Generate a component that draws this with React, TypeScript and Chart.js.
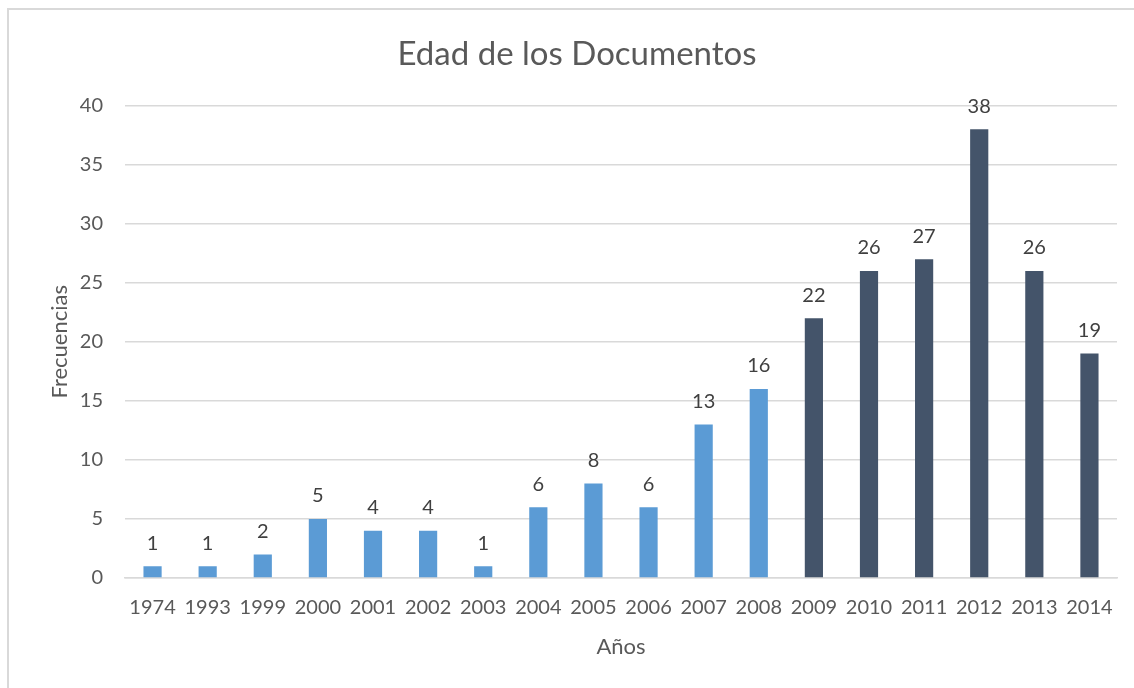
import React, { useEffect, useRef } from "react";
import { Chart, registerables } from "chart.js";

Chart.register(...registerables);

const years = ["1974","1993","1999","2000","2001","2002","2003","2004","2005","2006","2007","2008","2009","2010","2011","2012","2013","2014"];
const counts = [1,1,2,5,4,4,1,6,8,6,13,16,22,26,27,38,26,19];
const lightYears = 12; // first 12 categories use the light colour
const yTicks = [0,5,10,15,20,25,30,35,40];

const LIGHT = "#5B9BD5";
const DARK = "#44546A";
const TEXT = "#595959";
const FONT = "Lato, 'Open Sans', sans-serif";

export default function App() {
  const ref = useRef<HTMLCanvasElement | null>(null);
  useEffect(() => {
    document.body.style.margin = "0";
    const canvas = ref.current!;
    const framePlugin = {
      id: "frame",
      beforeDraw(chart: any) {
        const ctx = chart.ctx;
        ctx.save();
        ctx.fillStyle = "#ffffff";
        ctx.fillRect(0, 0, chart.width, chart.height);
        ctx.strokeStyle = "#d9d9d9";
        ctx.lineWidth = 2;
        ctx.beginPath();
        ctx.moveTo(8, chart.height);
        ctx.lineTo(8, 9);
        ctx.lineTo(chart.width, 9);
        ctx.stroke();
        ctx.restore();
      },
    };
    const labelPlugin = {
      id: "valueLabels",
      afterDatasetsDraw(chart: any) {
        const ctx = chart.ctx;
        const meta = chart.getDatasetMeta(0);
        ctx.save();
        ctx.fillStyle = "#404040";
        ctx.font = `20px ${FONT}`;
        ctx.textAlign = "center";
        ctx.textBaseline = "bottom";
        meta.data.forEach((el: any, i: number) => {
          ctx.fillText(String(counts[i]), el.x, el.y - 13);
        });
        ctx.restore();
      },
    };
    const chart = new Chart(canvas, {
      type: "bar",
      data: {
        labels: years,
        datasets: [
          {
            data: counts,
            backgroundColor: counts.map((_, i) => (i < lightYears ? LIGHT : DARK)),
            barPercentage: 0.6,
            categoryPercentage: 0.55,
          },
        ],
      },
      options: {
        responsive: false,
        animation: false,
        layout: { padding: { left: 37, right: 17, top: 0, bottom: 0 } },
        plugins: {
          legend: { display: false },
          tooltip: { enabled: false },
          title: {
            display: true,
            text: "Edad de los Documentos",
            color: TEXT,
            font: { family: FONT, size: 33, weight: "normal" },
            padding: { top: 35, bottom: 31 },
          },
        },
        scales: {
          x: {
            grid: { display: false, drawTicks: false },
            border: { display: true, color: "#d9d9d9", width: 1.5 },
            ticks: { color: TEXT, font: { family: FONT, size: 20 }, padding: 18, maxRotation: 0, autoSkip: false },
            title: { display: true, text: "Años", color: TEXT, font: { family: FONT, size: 22 }, padding: { top: 0, bottom: 28 } },
            afterFit: (s: any) => { s.height = 110; },
          },
          y: {
            min: 0,
            max: 40,
            afterBuildTicks: (s: any) => { s.ticks = yTicks.map((v) => ({ value: v })); },
            grid: { color: "#d9d9d9", lineWidth: 1.5, drawTicks: false },
            border: { display: false },
            ticks: { color: TEXT, font: { family: FONT, size: 20 }, padding: 22 },
            title: { display: true, text: "Frecuencias", color: TEXT, font: { family: FONT, size: 22 }, padding: { top: 10, bottom: 0 } },
            afterFit: (s: any) => { s.width = 88; },
          },
        },
      },
      plugins: [framePlugin, labelPlugin],
    });
    return () => chart.destroy();
  }, []);
  return <canvas ref={ref} width={1134} height={688} style={{ display: "block" }} />;
}
